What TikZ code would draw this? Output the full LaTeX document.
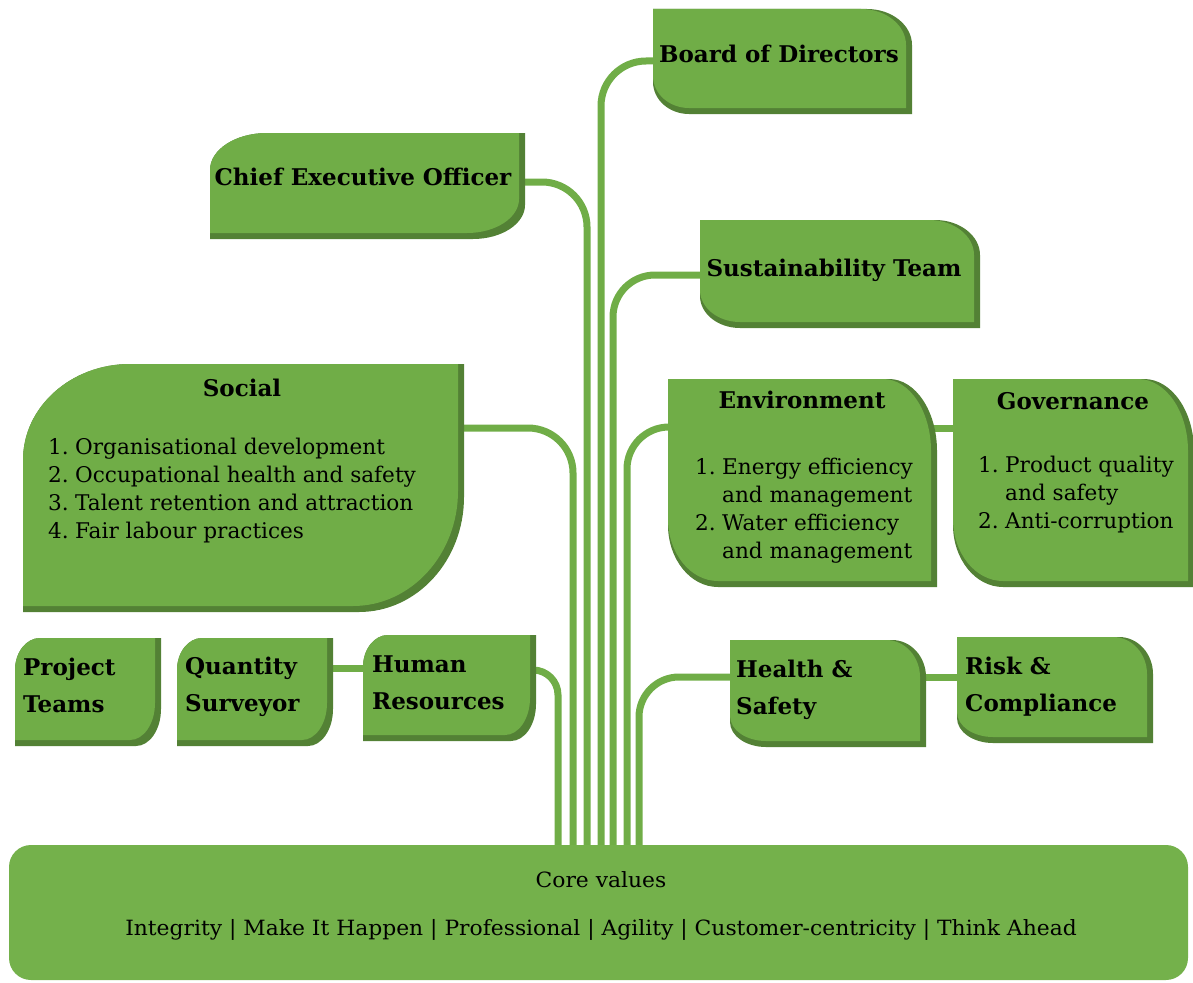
\documentclass[tikz,border=0pt]{standalone}
\usepackage{fontspec}
\setmainfont{DejaVu Serif}
\newfontfamily\condfont[FakeStretch=1.04]{DejaVu Serif}
\definecolor{leaf}{HTML}{70AD47}
\definecolor{leafdark}{HTML}{538135}
\definecolor{corefill}{HTML}{74B14B}
% top-right and bottom-left rounded: x1 y1 x2 y2 rxTR ryTR rxBL ryBL
\newcommand\boxTR[8]{%
 \fill[leafdark] (#1,#2) -- ({#3+6-#5},#2) arc[start angle=-90,end angle=0,x radius=#5,y radius=#6] -- ({#3+6},{#4+6}) -- ({#1+#7},{#4+6}) arc[start angle=90,end angle=180,x radius=#7,y radius=#8] -- cycle;
 \fill[leaf] (#1,#2) -- ({#3-#5},#2) arc[start angle=-90,end angle=0,x radius=#5,y radius=#6] -- (#3,#4) -- ({#1+#7},#4) arc[start angle=90,end angle=180,x radius=#7,y radius=#8] -- cycle;}
% top-left and bottom-right rounded
\newcommand\boxTL[8]{%
 \fill[leafdark] (#1,{#2+#6}) arc[start angle=180,end angle=270,x radius=#5,y radius=#6] -- ({#3+6},#2) -- ({#3+6},{#4+6-#8}) arc[start angle=0,end angle=90,x radius=#7,y radius=#8] -- (#1,{#4+6}) -- cycle;
 \fill[leaf] (#1,{#2+#6}) arc[start angle=180,end angle=270,x radius=#5,y radius=#6] -- (#3,#2) -- (#3,{#4-#8}) arc[start angle=0,end angle=90,x radius=#7,y radius=#8] -- (#1,#4) -- cycle;}
\newcommand\itm[1]{\makebox[27pt][l]{#1}}
\begin{document}
\begin{tikzpicture}[x=1pt,y=-1pt,
  conn/.style={draw=leaf,line width=7pt},
  head/.style={inner sep=0pt,font=\bfseries\fontsize{23}{26}\selectfont},
  head2/.style={inner sep=0pt,align=left,font=\bfseries\fontsize{23}{37}\selectfont},
  body/.style={inner sep=0pt,align=left,font=\fontsize{21.6}{28}\selectfont},
  coretxt/.style={inner sep=0pt,font=\condfont\fontsize{21}{26}\selectfont}]
\useasboundingbox (0,0) rectangle (1193,982);
% connector end points
\coordinate (cHR) at (528,670);   \coordinate (bHR) at (558,850);
\coordinate (cSoc) at (450,428);  \coordinate (bSoc) at (573,850);
\coordinate (cCEO) at (510,182);  \coordinate (bCEO) at (587,850);
\coordinate (cBoard) at (665,61); \coordinate (bBoard) at (601,850);
\coordinate (cSust) at (710,275); \coordinate (bSust) at (613,850);
\coordinate (cEnv) at (680,427);  \coordinate (bEnv) at (627,850);
\coordinate (cHS) at (740,677);   \coordinate (bHS) at (639,850);
\coordinate (cEnvR) at (925,428); \coordinate (cGovL) at (960,428);
\coordinate (cQSR) at (320,668);  \coordinate (cHRL) at (370,668);
\coordinate (cHSR) at (915,677);  \coordinate (cRiskL) at (962,677);
% connectors
\draw[conn,rounded corners=25] (cHR) -| (bHR);
\draw[conn,rounded corners=45] (cSoc) -| (bSoc);
\draw[conn,rounded corners=45] (cCEO) -| (bCEO);
\draw[conn,rounded corners=45] (cBoard) -| (bBoard);
\draw[conn,rounded corners=42] (cSust) -| (bSust);
\draw[conn,rounded corners=42] (cEnv) -| (bEnv);
\draw[conn,rounded corners=40] (cHS) -| (bHS);
\draw[conn] (cEnvR) -- (cGovL);
\draw[conn] (cQSR) -- (cHRL);
\draw[conn] (cHSR) -- (cRiskL);
% boxes
\boxTR{653}{9}{906}{108}{45}{36}{36}{32}
\boxTL{210}{133}{519}{233}{57}{37}{52}{34}
\boxTR{700}{220}{974}{322}{45}{35}{40}{32}
\boxTL{23}{364}{458}{606}{107}{96}{105}{115}
\boxTR{668}{379}{931}{581}{48}{72}{50}{62}
\boxTR{953}{379}{1188}{581}{50}{72}{50}{62}
\boxTL{15}{638}{155}{740}{25}{32}{25}{37}
\boxTL{177}{638}{327}{740}{25}{32}{25}{37}
\boxTL{363}{635}{530}{735}{25}{32}{25}{37}
\boxTR{730}{640}{920}{741}{34}{37}{36}{25}
\boxTR{957}{637}{1147}{737}{34}{37}{36}{25}
\fill[corefill,rounded corners=22] (9,845) rectangle (1188,980);
% texts (multi-line nodes: base = last line's baseline)
\node[head,anchor=base] (tBoard) at (779,63) {Board of Directors};
\node[head,anchor=base] (tCEO) at (363,185) {Chief Executive Officer};
\node[head,anchor=base] (tSust) at (834,276) {Sustainability Team};
\node[head,anchor=base] (tSocial) at (242,396) {Social};
\node[body,anchor=base west] (lSocial) at (48,538) {\itm{1.}Organisational development\\\itm{2.}Occupational health and safety\\\itm{3.}Talent retention and attraction\\\itm{4.}Fair labour practices};
\node[head,anchor=base] (tEnv) at (802,408) {Environment};
\node[body,anchor=base west] (lEnv) at (695,558) {\itm{1.}Energy efficiency\\\itm{}and management\\\itm{2.}Water efficiency\\\itm{}and management};
\node[head,anchor=base] (tGov) at (1073,409) {Governance};
\node[body,anchor=base west] (lGov) at (978,528) {\itm{1.}Product quality\\\itm{}and safety\\\itm{2.}Anti-corruption};
\node[head2,anchor=base west] (tPT) at (23,712) {Project\\Teams};
\node[head2,anchor=base west] (tQS) at (185,711) {Quantity\\Surveyor};
\node[head2,anchor=base west] (tHR) at (372,709) {Human\\Resources};
\node[head2,anchor=base west] (tHS) at (736,714) {Health \&\\Safety};
\node[head2,anchor=base west] (tRisk) at (965,711) {Risk \&\\Compliance};
\node[coretxt,anchor=base] (tCore) at (601,887) {Core values};
\node[coretxt,anchor=base] (tValues) at (601,935) {Integrity | Make It Happen | Professional | Agility | Customer-centricity | Think Ahead};
\end{tikzpicture}
\end{document}
